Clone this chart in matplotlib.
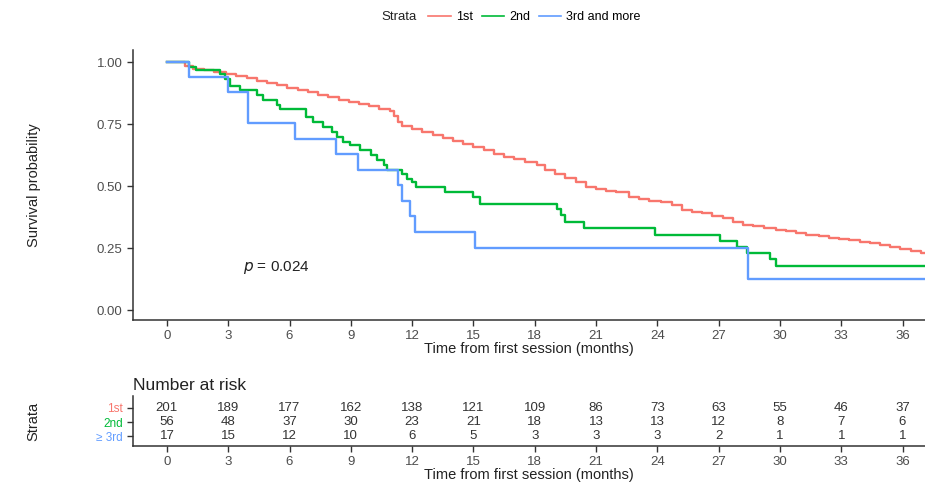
import matplotlib
matplotlib.use("Agg")
import matplotlib.pyplot as plt
from matplotlib.lines import Line2D

plt.rcParams['font.family'] = ['Liberation Sans', 'DejaVu Sans']

# ---- data ----
strata_names = ["1st", "2nd", "3rd and more"]
risk_labels = ["1st", "2nd", "\u2265 3rd"]
colors = ["#F8766D", "#00BA38", "#619CFF"]

t_1st = [0, 0.9, 1.3, 1.8, 2.3, 2.9, 3.4, 3.9, 4.4, 4.9, 5.4, 5.9, 6.4, 6.9, 7.4,
         7.9, 8.4, 8.9, 9.4, 9.9, 10.4, 10.9, 11.1, 11.3, 11.5, 12.0, 12.5, 13.0,
         13.5, 14.0, 14.5, 15.0, 15.5, 16.0, 16.5, 17.0, 17.5, 18.1, 18.5, 19.0,
         19.5, 20.0, 20.5, 21.0, 21.5, 22.0, 22.6, 23.1, 23.6, 24.2, 24.7, 25.2,
         25.7, 26.2, 26.7, 27.2, 27.7, 28.2, 28.7, 29.2, 29.8, 30.3, 30.8, 31.3,
         31.9, 32.4, 32.9, 33.4, 33.9, 34.4, 34.9, 35.4, 35.9, 36.4, 36.9]
s_1st = [1.0, 0.985, 0.975, 0.968, 0.960, 0.953, 0.945, 0.935, 0.926, 0.918, 0.908,
         0.898, 0.890, 0.880, 0.870, 0.860, 0.850, 0.840, 0.832, 0.822, 0.812, 0.802,
         0.785, 0.760, 0.742, 0.730, 0.718, 0.705, 0.695, 0.684, 0.672, 0.658, 0.645,
         0.632, 0.620, 0.608, 0.596, 0.585, 0.567, 0.550, 0.535, 0.518, 0.495, 0.488,
         0.482, 0.475, 0.455, 0.448, 0.442, 0.435, 0.425, 0.405, 0.396, 0.390, 0.380,
         0.370, 0.355, 0.345, 0.338, 0.330, 0.325, 0.318, 0.310, 0.305, 0.298, 0.292,
         0.287, 0.282, 0.276, 0.270, 0.262, 0.255, 0.248, 0.240, 0.232]

t_2nd = [0, 1.1, 1.4, 2.6, 2.84, 3.08, 3.57, 4.39, 4.7, 5.37, 5.53, 6.83, 7.16,
         7.65, 8.06, 8.3, 8.63, 8.95, 9.44, 10.0, 10.3, 10.6, 10.75, 11.48, 11.73,
         11.97, 12.2, 13.6, 15.0, 15.3, 19.07, 19.3, 19.5, 20.4, 23.9, 27.05, 27.9,
         28.4, 29.5, 29.8]
s_2nd = [1.0, 0.98, 0.968, 0.952, 0.934, 0.905, 0.887, 0.867, 0.847, 0.827, 0.813,
         0.78, 0.76, 0.74, 0.72, 0.70, 0.68, 0.665, 0.645, 0.625, 0.605, 0.585, 0.565,
         0.551, 0.531, 0.518, 0.497, 0.477, 0.457, 0.43, 0.41, 0.383, 0.356, 0.33,
         0.302, 0.278, 0.255, 0.231, 0.208, 0.177]

t_3rd = [0, 1.08, 3.0, 3.96, 6.26, 8.25, 9.33, 11.3, 11.48, 11.9, 12.13, 15.07, 28.44]
s_3rd = [1.0, 0.941, 0.882, 0.755, 0.69, 0.63, 0.567, 0.504, 0.44, 0.378, 0.315,
         0.252, 0.126]

times_risk = [0, 3, 6, 9, 12, 15, 18, 21, 24, 27, 30, 33, 36]
risk_1st = [201, 189, 177, 162, 138, 121, 109, 86, 73, 63, 55, 46, 37]
risk_2nd = [56, 48, 37, 30, 23, 21, 18, 13, 13, 12, 8, 7, 6]
risk_3rd = [17, 15, 12, 10, 6, 5, 3, 3, 3, 2, 1, 1, 1]

X_END = 37.1
AX_COLOR = "#333333"
TXT = "#4d4d4d"


def style_axis(ax):
    for side in ("top", "right"):
        ax.spines[side].set_visible(False)
    for side in ("left", "bottom"):
        ax.spines[side].set_color(AX_COLOR)
        ax.spines[side].set_linewidth(1.1)
    ax.tick_params(colors=AX_COLOR, labelcolor=TXT, length=4, width=1, labelsize=9.5)


fig = plt.figure(figsize=(9.25, 4.83), dpi=100)

# ---- survival curves ----
ax = fig.add_axes([0.1438, 0.3375, 0.8562, 0.559])
curves = [(t_1st, s_1st), (t_2nd, s_2nd), (t_3rd, s_3rd)]
for (t, s), c in zip(curves, colors):
    ax.step(list(t) + [X_END], list(s) + [s[-1]], where="post", color=c, lw=1.7)

ax.set_xlim(-1.66, X_END)
ax.set_ylim(-0.04, 1.05)
ax.set_xticks(times_risk)
ax.set_yticks([0, 0.25, 0.5, 0.75, 1.0])
ax.set_yticklabels(["0.00", "0.25", "0.50", "0.75", "1.00"])
style_axis(ax)
ax.set_xlabel("Time from first session (months)", fontsize=10.5, color="#222222", labelpad=0)
ax.set_ylabel("Survival probability", fontsize=10.5, color="#222222", labelpad=40)
ax.text(3.7, 0.17, "$p$ = 0.024", fontsize=11, color="#222222", va="center")

# legend on top, title inline with the entries
handles = [Line2D([], [], color=c, lw=1.2) for c in colors]
fig.legend(handles, strata_names, loc="center", bbox_to_anchor=(0.578, 0.965), ncol=3,
           frameon=False, fontsize=9, handlelength=1.8, handletextpad=0.4, columnspacing=0.7)
fig.text(0.412, 0.965, "Strata", fontsize=9.5, color="#222222", va="center")

# ---- risk table ----
axr = fig.add_axes([0.1438, 1 - 446 / 483, 0.8562, 50 / 483])
rows = [risk_1st, risk_2nd, risk_3rd]
ypos = [3, 2, 1]
for vals, y in zip(rows, ypos):
    for t, v in zip(times_risk, vals):
        axr.text(t, y, str(v), ha="center", va="center", fontsize=9.5, color="#333333")
axr.set_xlim(-1.66, X_END)
axr.set_ylim(0.286, 3.857)
axr.set_xticks(times_risk)
axr.set_yticks(ypos)
axr.set_yticklabels(risk_labels)
style_axis(axr)
for lab, c in zip(axr.get_yticklabels(), colors):
    lab.set_color(c)
    lab.set_fontsize(8.5)
axr.set_xlabel("Time from first session (months)", fontsize=10.5, color="#222222", labelpad=0)
axr.set_ylabel("Strata", fontsize=10.5, color="#222222", labelpad=40)
axr.set_title("Number at risk", loc="left", fontsize=12.5, color="#222222", pad=4)

fig.savefig("out.png", dpi=100)
